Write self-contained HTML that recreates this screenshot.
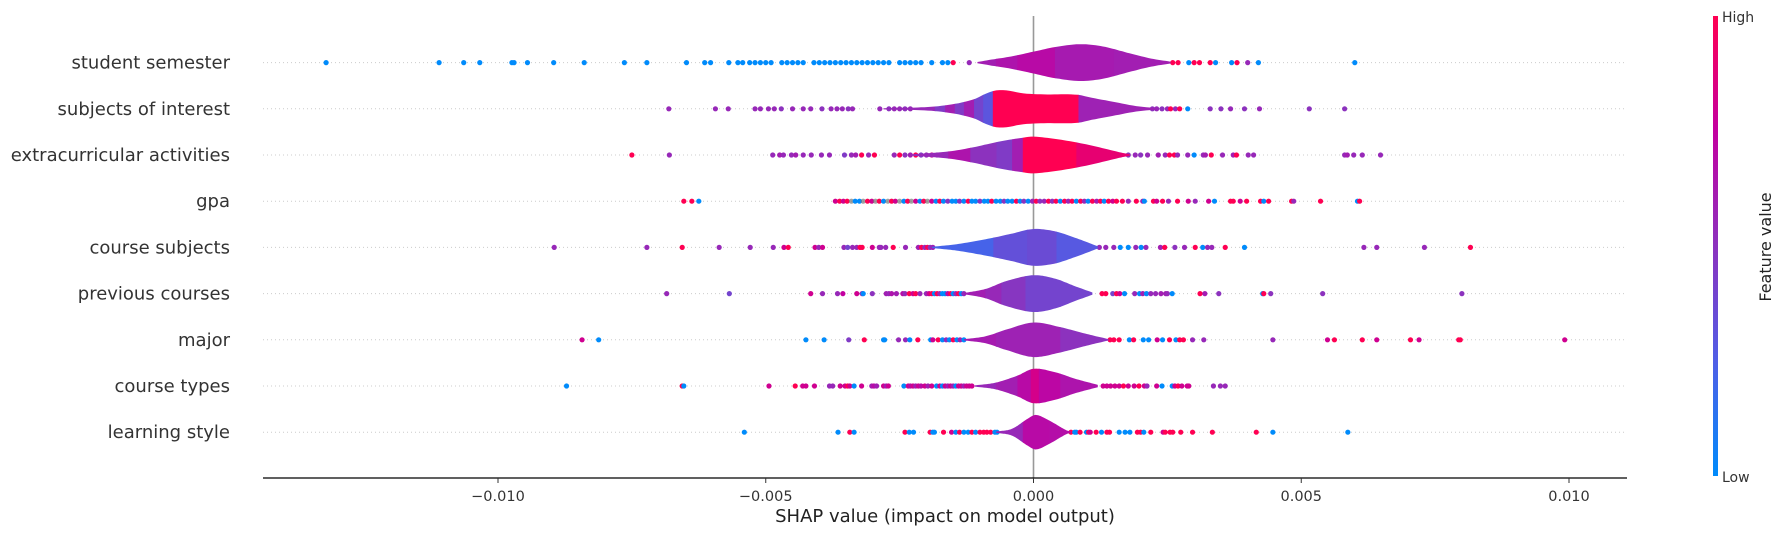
<!DOCTYPE html>
<html><head><meta charset="utf-8"><style>
html,body{margin:0;padding:0;background:#fff;}
svg{display:block;font-family:"DejaVu Sans","Liberation Sans",sans-serif;}
</style></head><body>
<svg id="chart" width="1785" height="536" viewBox="0 0 1785 536">
<defs>
<linearGradient id="cbar" x1="0" y1="1" x2="0" y2="0">
<stop offset="0" stop-color="rgb(0,139,251)"/><stop offset="0.25" stop-color="rgb(80,94,230)"/><stop offset="0.5" stop-color="rgb(140,50,190)"/><stop offset="0.75" stop-color="rgb(195,0,160)"/><stop offset="1" stop-color="rgb(255,0,82)"/>
</linearGradient>
</defs>
<g id="rows"></g>
<line x1="1033.5" y1="16" x2="1033.5" y2="478" stroke="#999" stroke-width="1.6"/>
<g id="marks"></g>
<line x1="263" y1="478" x2="1627" y2="478" stroke="#000" stroke-width="1.3"/>
<g id="xticks"></g>
<text x="945" y="522" font-size="18" fill="#222" text-anchor="middle">SHAP value (impact on model output)</text>
<rect x="1713" y="16" width="5" height="460" fill="url(#cbar)"/>
<text x="1722" y="22" font-size="14" fill="#333">High</text>
<text x="1722" y="482" font-size="14" fill="#333">Low</text>
<text transform="translate(1771,247) rotate(-90)" font-size="16" fill="#222" text-anchor="middle">Feature value</text>
</svg>
<script>
const features = ["student semester","subjects of interest","extracurricular activities","gpa","course subjects","previous courses","major","course types","learning style"];
const xTicks = [-0.010,-0.005,0.000,0.005,0.010];
const xTickLabels = ["\u22120.010","\u22120.005","0.000","0.005","0.010"];

const dotsX0 = [-0.01321,-0.0111,-0.01064,-0.01034,-0.00974,-0.0097,-0.00945,-0.00896,-0.00839,-0.00764,-0.00722,-0.00648,-0.00614,-0.00603,-0.00569,-0.00552,-0.00543,-0.0053,-0.0052,-0.0051,-0.005,-0.0049,-0.0047,-0.0046,-0.0045,-0.0044,-0.0043,-0.0041,-0.004,-0.0039,-0.0038,-0.0037,-0.0036,-0.0035,-0.0034,-0.0033,-0.0032,-0.0031,-0.003,-0.0029,-0.0028,-0.0027,-0.0025,-0.0024,-0.0023,-0.0022,-0.0021,-0.0019,-0.0017,-0.0016,-0.0015,-0.0012,0.0026,0.0027,0.0029,0.003,0.0031,0.0033,0.0034,0.0037,0.0038,0.004,0.0042,0.006];
const dotsF0 = [0,0,0,0,0,0,0,0,0,0,0,0,0,0,0,0,0,0,0,0,0,0,0,0,0,0,0,0,0,0,0,0,0,0,0,0,0,0,0,0,0,0,0,0,0,0,0,0,0,0,1,0.55,1,1,0,1,1,1,0,0,1,0.55,0,0];
const dotsX1 = [-0.00681,-0.00594,-0.0057,-0.0052,-0.0051,-0.00495,-0.00484,-0.00471,-0.0045,-0.0043,-0.00416,-0.00395,-0.00378,-0.00367,-0.00357,-0.00346,-0.00338,-0.00287,-0.0027,-0.0026,-0.0025,-0.0024,-0.0023,0.00222,0.0023,0.0024,0.0025,0.00256,0.00265,0.00273,0.00288,0.0033,0.0035,0.00368,0.00394,0.00422,0.00515,0.00581];
const dotsF1 = [0.55,0.55,0.55,0.55,0.55,0.55,0.55,0.5,0.55,0.55,0.55,0.5,0.55,0.55,0.55,0.5,0.55,0.55,0.5,0.55,0.55,0.5,0.55,0.5,0.55,0.5,0.55,1,0.55,1,0,0.5,0.5,0.55,0.5,0.55,0.5,0.5];
const dotsX2 = [-0.0075,-0.0068,-0.00487,-0.00474,-0.00467,-0.00452,-0.00444,-0.0043,-0.00415,-0.00396,-0.00381,-0.00353,-0.0034,-0.00332,-0.00321,-0.00308,-0.00297,-0.0026,-0.0025,-0.0024,-0.0023,-0.0022,-0.0021,-0.002,-0.0019,-0.0018,-0.0017,0.00162,0.00177,0.0019,0.002,0.00213,0.00233,0.00246,0.00254,0.00263,0.00269,0.00288,0.003,0.00317,0.00321,0.00332,0.00353,0.00373,0.00379,0.00401,0.00411,0.00581,0.00586,0.00598,0.00614,0.00648];
const dotsF2 = [1,0.55,0.55,0.6,0.55,0.55,0.6,0.55,0.55,0.55,0.55,0.45,0.55,0.6,1,0.55,1,0.55,1,0.5,0.6,1,0.45,0.55,0.8,0.5,0.6,0.55,0.5,0.55,0.5,0.55,0.6,0.55,1,1,0.55,0.55,0,0.55,0.6,1,0.55,0.6,1,0.55,0.55,0.55,0.6,0.55,0.55,0.55];
const dotsX3 = [-0.00653,-0.00638,-0.00625,-0.0037,-0.00362,-0.00355,-0.00348,-0.0034,-0.00333,-0.00325,-0.00318,-0.0031,-0.00302,-0.00295,-0.00288,-0.0028,-0.00272,-0.00265,-0.00258,-0.0025,-0.00242,-0.00235,-0.00228,-0.0022,-0.00212,-0.00205,-0.00198,-0.0019,-0.00182,-0.00175,-0.00168,-0.0016,-0.00152,-0.00145,-0.00138,-0.0013,-0.00122,-0.00115,-0.00108,-0.001,-0.00092,-0.00085,-0.00078,-0.0007,-0.00062,-0.00055,-0.00048,-0.0004,-0.00032,-0.00025,-0.00018,-0.0001,-0.00002,0.00005,0.00012,0.0002,0.00028,0.00035,0.00042,0.0005,0.00058,0.00065,0.00072,0.0008,0.00088,0.00095,0.00102,0.0011,0.00118,0.00125,0.00132,0.0014,0.00148,0.00155,0.00166,0.00177,0.00192,0.00204,0.00207,0.00224,0.0023,0.00241,0.00252,0.00269,0.00289,0.00302,0.00327,0.00338,0.00368,0.00373,0.00386,0.00398,0.00424,0.0043,0.00439,0.00482,0.00486,0.00536,0.00605,0.00609];
const dotsF3 = [1,1,0,0.8,1,0.8,1,null,0,0,null,1,0.8,null,1,0,null,1,0.8,null,0,1,null,0.8,0,1,null,0.8,0,1,0,0.5,0,0,0.5,0,1,0,0,0.5,0,0,1,0,0,0.5,0,0,1,0,0.5,0,0.55,1,0.5,0.55,1,0.5,1,0,1,0.55,1,0,1,0.55,0,1,0.6,1,0,1,0.8,1,1,0.55,1,0.6,0,1,0.8,1,0.55,1,0.8,0.55,0.8,0,1,1,0.8,1,1,0,1,1,0.55,1,0,1];
const dotsX4 = [-0.00895,-0.00722,-0.00656,-0.00587,-0.00529,-0.00486,-0.00466,-0.00458,-0.00408,-0.00401,-0.00394,-0.00354,-0.00347,-0.00338,-0.0033,-0.00324,-0.0032,-0.00301,-0.00288,-0.00285,-0.00276,-0.00262,-0.00239,-0.00215,-0.00209,-0.00203,-0.00198,-0.00193,-0.00188,0.00123,0.00135,0.0015,0.00162,0.00177,0.00191,0.00201,0.0021,0.00237,0.00245,0.00264,0.00282,0.00302,0.00316,0.00325,0.00333,0.00358,0.00394,0.00617,0.00641,0.0073,0.00816];
const dotsF4 = [0.55,0.55,1,0.55,0.55,0.55,0.8,1,0.8,0.55,0.8,0.55,0.4,0.55,0.55,1,1,0.8,0.55,0.55,0.55,1,0.55,0.6,1,0.55,1,0.5,0.6,0.55,0.55,0.55,0,0,0.55,0,0.55,0.6,1,0.5,0.55,1,0,0.55,0.55,1,0,0.55,0.55,0.55,1];
const dotsX5 = [-0.00685,-0.00568,-0.00416,-0.00394,-0.00366,-0.00356,-0.0033,-0.0032,-0.00318,-0.00301,-0.00275,-0.0027,-0.00265,-0.00256,-0.00244,-0.0024,-0.00232,-0.00225,-0.0022,-0.00212,-0.002,-0.00195,-0.0019,-0.00185,-0.0018,-0.00175,-0.0017,-0.00165,-0.0016,-0.00155,-0.0015,-0.00145,-0.0014,-0.00135,-0.0013,0.00128,0.00135,0.00148,0.00155,0.00161,0.0017,0.00189,0.00198,0.00204,0.00211,0.00219,0.00228,0.00238,0.00247,0.0025,0.00259,0.00311,0.0032,0.00346,0.00428,0.0043,0.00443,0.0054,0.008];
const dotsF5 = [0.55,0.4,0.8,0.55,0.55,0.75,0.8,0.55,0,0.5,0.6,0.55,0.65,0.6,0.7,0.55,1,0.8,1,0.55,0.55,0.8,1,0,1,0.55,0,0,0.7,1,0,0.55,1,0,0.55,1,1,0.4,1,0.8,0,0.55,0,0.6,0,0.55,0.55,0.6,0.6,0.55,0,1,0.6,0.5,0,1,0.5,0.5,0.5];
const dotsX6 = [-0.00843,-0.00812,-0.00425,-0.00391,-0.00345,-0.00316,-0.0028,-0.00278,-0.00252,-0.00239,-0.00231,-0.00216,-0.00192,-0.00188,-0.00178,-0.0017,-0.00163,-0.00157,-0.0015,-0.00143,-0.00137,-0.0013,0.00143,0.0015,0.0016,0.00179,0.00187,0.00205,0.00215,0.00231,0.00241,0.00254,0.00266,0.00273,0.0028,0.00297,0.00318,0.00447,0.00549,0.00562,0.00614,0.00641,0.00704,0.0072,0.00794,0.00797,0.00992];
const dotsF6 = [0.8,0,0,0,0.45,1,0,0,0.55,0.55,0,1,0,0.8,1,0,0.55,0,1,0,0.6,0,1,1,1,0,1,0,0,0.8,0,1,0,1,1,0.55,0.55,0.55,0.8,1,1,0.8,1,0.8,1,1,0.8];
const dotsX7 = [-0.00872,-0.00656,-0.00653,-0.00494,-0.00445,-0.00431,-0.00425,-0.00409,-0.00381,-0.00375,-0.00361,-0.00352,-0.00347,-0.00343,-0.00335,-0.00321,-0.00302,-0.00298,-0.00293,-0.0028,-0.00275,-0.00271,-0.00242,-0.00234,-0.0023,-0.00225,-0.0022,-0.00215,-0.0021,-0.00203,-0.00197,-0.0019,-0.00181,-0.00175,-0.0017,-0.00165,-0.0016,-0.00155,-0.0015,-0.00145,-0.0014,-0.00135,-0.0013,-0.00125,-0.0012,-0.00115,0.0013,0.00137,0.00144,0.00152,0.0016,0.00168,0.00177,0.00188,0.00197,0.00207,0.00212,0.0023,0.0024,0.00259,0.00264,0.0027,0.00277,0.00287,0.0029,0.00336,0.00349,0.00358];
const dotsF7 = [0,1,0,0.8,1,0.8,0.8,0.8,0.55,0.55,0.8,0.8,1,0.8,0,0.8,0.6,0.7,0.6,0.8,0.6,0.8,0,0.8,0.7,0.8,0.6,0.8,0.7,0.8,0.6,0.8,0,0.8,0,0.8,0.6,0.8,0.6,0,0.8,0.8,0.6,0.8,0.8,0.8,0.8,0.8,0.8,0.8,0.8,1,0.8,0.8,1,0.8,0.55,0.8,0,0,0.8,1,0.8,0.8,0.8,0.55,0.55,0.55];
const dotsX8 = [-0.0054,-0.00365,-0.00343,-0.00335,-0.0024,-0.00232,-0.00224,-0.00193,-0.00188,-0.00185,-0.00168,-0.00153,-0.00145,-0.00138,-0.0013,-0.00122,-0.00115,-0.00108,-0.001,-0.00093,-0.00087,-0.0008,-0.00072,-0.00068,0.0007,0.00077,0.0008,0.00087,0.00099,0.00103,0.00106,0.00117,0.00127,0.00137,0.00142,0.0016,0.00171,0.0018,0.00194,0.002,0.00206,0.00219,0.00242,0.00246,0.00255,0.0026,0.00275,0.00297,0.00334,0.00416,0.00447,0.00587];
const dotsF8 = [0,0,1,0,1,0,0,1,0,0,1,0.8,0,1,0,0,1,0,1,1,1,1,0,0,1,0,0,1,0,1,0.8,1,0,1,1,0,0,0,1,1,0,1,0.8,1,1,1,1,1,1,1,0,0];

const violinV0 = [-0.00105,-0.0008,-0.0004,0,0.0004,0.00087,0.0013,0.0018,0.0022,0.00256];
const violinD0 = [0.5,2.5,5.5,9.5,13.5,16,14,8,3.5,0.8];
const segV0 = [-0.00105,-0.0007,-0.0003,0.0004,0.0015];
const segF0 = [0.6,0.65,0.7,0.62,0.6];
const violinV1 = [-0.0028,-0.002,-0.0015,-0.0011,-0.0009,-0.0007,-0.0005,-0.0002,0.0002,0.0008,0.0011,0.0015,0.0019,0.0023];
const violinD1 = [0.5,1.5,4,8.5,13,16,16,13.5,12.5,12.3,9.5,6,2.5,0.6];
const segV1 = [-0.0028,-0.00184,-0.00165,-0.00147,-0.0013,-0.00111,-0.00094,-0.00076,0.00084];
const segF1 = [0.55,0.45,0.6,0.45,0.6,0.4,0.3,1,0.58];
const violinV2 = [-0.0023,-0.0016,-0.0012,-0.0006,-0.0002,0,0.0004,0.0008,0.0012,0.0016,0.0018];
const violinD2 = [0.5,3,6,12,15,16,14,11,7,2.5,0.5];
const segV2 = [-0.0023,-0.00159,-0.00118,-0.00069,-0.0004,-0.0002,0.0008];
const segF2 = [0.55,0.65,0.5,0.45,0.6,1,0.9];
const violinV3 = [];
const violinD3 = [];
const segV3 = [];
const segF3 = [];
const violinV4 = [-0.0019,-0.0014,-0.0008,-0.0004,0,0.0004,0.0008,0.0012];
const violinD4 = [0.5,3,8,12,16,14,8,1];
const segV4 = [-0.0019,-0.00075,-0.00012,0.00043];
const segF4 = [0.22,0.33,0.36,0.28];
const violinV5 = [-0.0013,-0.0009,-0.0005,0,0.0004,0.0008,0.0011];
const violinD5 = [0.5,4,11,16,13,6,1];
const segV5 = [-0.0013,-0.0009,-0.0006,-0.00015,0.0005];
const segF5 = [0.6,0.55,0.48,0.4,0.4];
const violinV6 = [-0.0013,-0.0009,-0.0005,0,0.0005,0.001,0.0014];
const violinD6 = [0.5,3,9,15,11,5,0.6];
const segV6 = [-0.0013,-0.0007,0.0005];
const segF6 = [0.62,0.58,0.5];
const violinV7 = [-0.0011,-0.0007,-0.0003,0,0.0004,0.0008,0.0012];
const violinD7 = [0.5,3,9,15,12,6,1];
const segV7 = [-0.0011,-0.0007,-0.0003,-0.00005,0.0001,0.0005];
const segF7 = [0.55,0.6,0.7,0.82,0.72,0.65];
const violinV8 = [-0.0007,-0.0004,-0.0001,0.00005,0.0003,0.0006,0.0007];
const violinD8 = [0.5,3,12,15,10,2,0.5];
const segV8 = [-0.0007,-0.0002,0.0003];
const segF8 = [0.55,0.7,0.68];

const dotsX = [dotsX0,dotsX1,dotsX2,dotsX3,dotsX4,dotsX5,dotsX6,dotsX7,dotsX8];
const dotsF = [dotsF0,dotsF1,dotsF2,dotsF3,dotsF4,dotsF5,dotsF6,dotsF7,dotsF8];
const violinV = [violinV0,violinV1,violinV2,violinV3,violinV4,violinV5,violinV6,violinV7,violinV8];
const violinD = [violinD0,violinD1,violinD2,violinD3,violinD4,violinD5,violinD6,violinD7,violinD8];
const segV = [segV0,segV1,segV2,segV3,segV4,segV5,segV6,segV7,segV8];
const segF = [segF0,segF1,segF2,segF3,segF4,segF5,segF6,segF7,segF8];

const NS = "http://www.w3.org/2000/svg";
const DENSITY_SCALE = 1.15;
function xScale(v){ return 1033.5 + v * 53550; }
function yScale(i){ return 62.6 + i * 46.2; }
function color(f){
  if (f === null) return "rgb(120,120,120)";
  const st = [[0,[0,139,251]],[0.25,[80,94,230]],[0.5,[140,50,190]],[0.75,[195,0,160]],[1,[255,0,82]]];
  for (let k=0;k<st.length-1;k++){
    if (f <= st[k+1][0]){
      const t=(f-st[k][0])/(st[k+1][0]-st[k][0]);
      const c=st[k][1].map((a,j)=>Math.round(a+(st[k+1][1][j]-a)*t));
      return "rgb("+c.join(",")+")";
    }
  }
  return "rgb(255,0,82)";
}
function mk(tag, attrs, parent){
  const el=document.createElementNS(NS,tag);
  for (const k in attrs) el.setAttribute(k, attrs[k]);
  parent.appendChild(el); return el;
}
function hermite(kv,kd,v){
  const n=kv.length;
  let k=0; while(k<n-2 && v>kv[k+1]) k++;
  const h=kv[k+1]-kv[k], t=(v-kv[k])/h;
  const m=j=>{
    if (j===0) return (kd[1]-kd[0])/(kv[1]-kv[0]);
    if (j===n-1) return (kd[n-1]-kd[n-2])/(kv[n-1]-kv[n-2]);
    return (kd[j+1]-kd[j-1])/(kv[j+1]-kv[j-1]);
  };
  const t2=t*t,t3=t2*t;
  const d=(2*t3-3*t2+1)*kd[k]+(t3-2*t2+t)*h*m(k)+(-2*t3+3*t2)*kd[k+1]+(t3-t2)*h*m(k+1);
  return Math.max(0.3,d);
}
const rowsG=document.getElementById("rows");
const marksG=document.getElementById("marks");
const defs=document.querySelector("defs");

features.forEach((name,i)=>{
  const y=yScale(i);
  const gl=mk("line",{x1:263,x2:1627,y1:y,y2:y,stroke:"#ccc","stroke-width":1,"stroke-dasharray":"1,3"},rowsG);
  
  
  const t=mk("text",{x:230,y:y+6,"text-anchor":"end","font-size":18,fill:"#333"},rowsG);
  t.textContent=name;
  
  

  const g=mk("g",{},marksG);
  
  
  dotsX[i].forEach((v,j)=>{
    const c=mk("circle",{cx:xScale(v),cy:y,r:2.6,fill:color(dotsF[i][j]),"fill-opacity":dotsF[i][j]===null?0.7:1},g);
    
    
  });

  const kv=violinV[i], kd=violinD[i];
  if (kv.length>1){
    const top=[], bot=[];
    const v0=kv[0], v1=kv[kv.length-1], N=80;
    for (let s=0;s<=N;s++){
      const v=v0+(v1-v0)*s/N;
      const d=hermite(kv,kd,v)*DENSITY_SCALE;
      top.push([xScale(v),y-d]); bot.push([xScale(v),y+d]);
    }
    const pts=top.concat(bot.reverse());
    const dstr="M"+pts.map(p=>p[0].toFixed(1)+","+p[1].toFixed(1)).join("L")+"Z";
    const cp=mk("clipPath",{id:"vclip"+i},defs);
    mk("path",{d:dstr},cp);
    const vg=mk("g",{"clip-path":"url(#vclip"+i+")"},g);
    
    
    const sv=segV[i], sf=segF[i];
    sv.forEach((v,k)=>{
      const x0=xScale(v), x1=k<sv.length-1?xScale(sv[k+1]):xScale(v1)+2;
      const r=mk("rect",{x:x0,y:y-24,width:Math.max(0,x1-x0)+0.5,height:48,fill:color(sf[k])},vg);
      
      
    });
  }
});

const xt=document.getElementById("xticks");
xTicks.forEach((v,k)=>{
  const x=xScale(v);
  const l=mk("line",{x1:x,x2:x,y1:478,y2:483,stroke:"#333","stroke-width":1},xt);
  
  
  const t=mk("text",{x:x,y:501,"text-anchor":"middle","font-size":14.5,fill:"#333"},xt);
  t.textContent=xTickLabels[k];
  
  
});
</script>
</body></html>
